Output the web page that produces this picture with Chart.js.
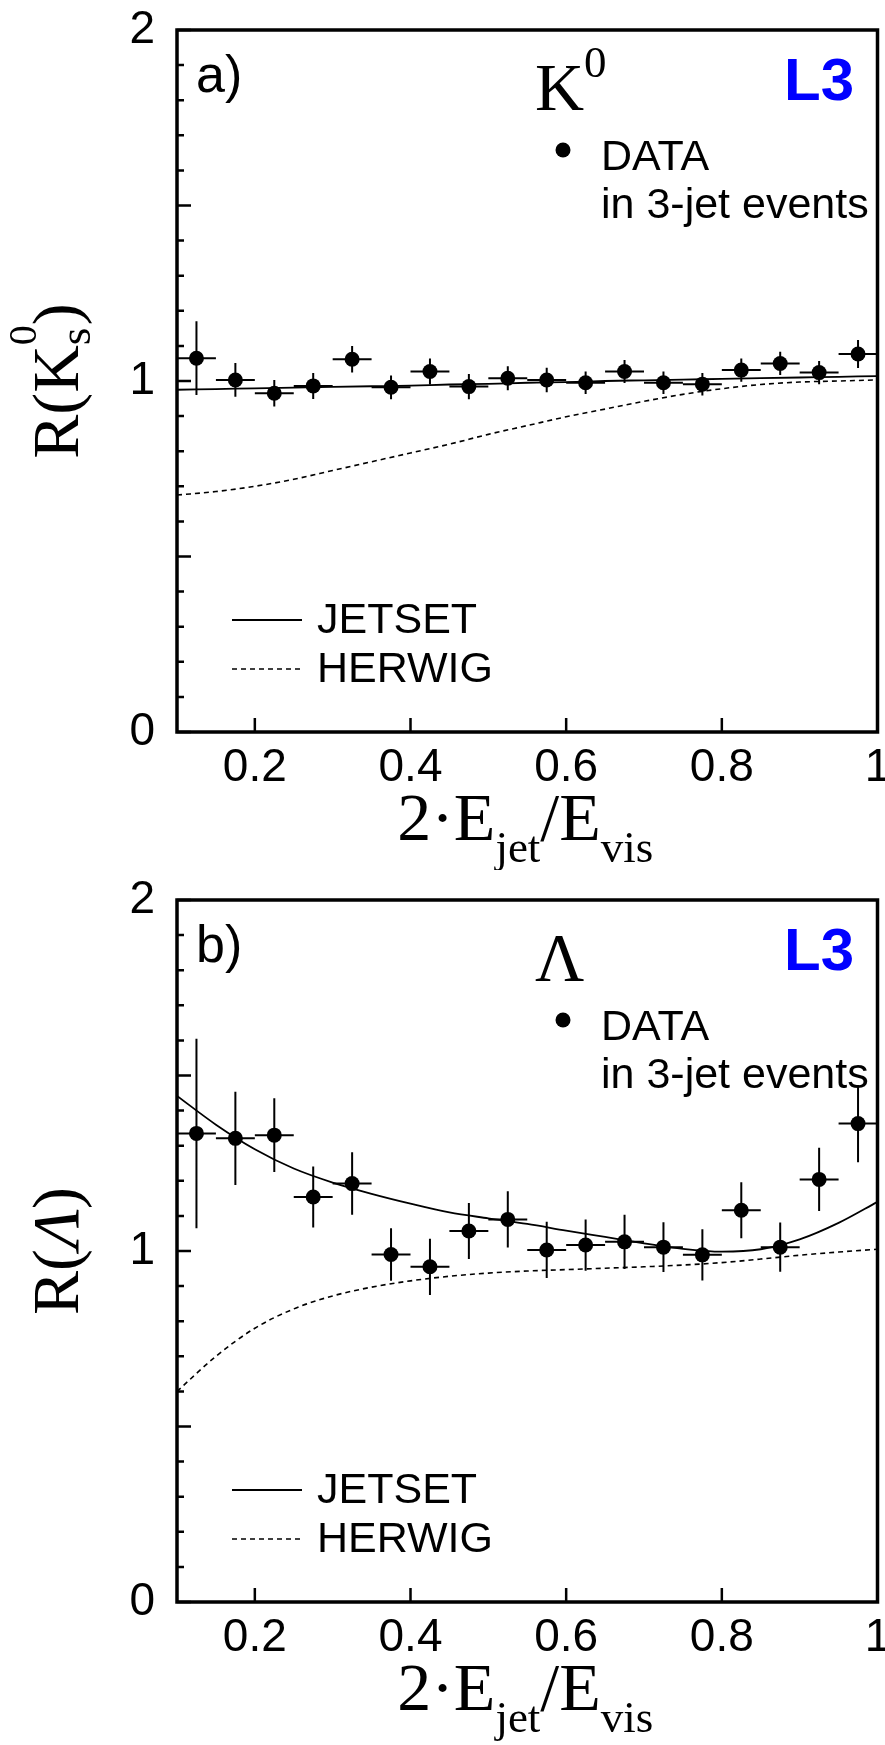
<!DOCTYPE html>
<html>
<head>
<meta charset="utf-8">
<script src="https://cdn.jsdelivr.net/npm/chart.js@4.4.1/dist/chart.umd.min.js"></script>
<style>
  html, body { margin: 0; padding: 0; background: #fff; }
  body { width: 885px; height: 1745px; position: relative; overflow: hidden; }
  canvas { position: absolute; left: 0; }
  #panelA { top: 0; }
  #panelB { top: 870px; }
</style>
</head>
<body>
<canvas id="panelA" width="885" height="870"></canvas>
<canvas id="panelB" width="885" height="875"></canvas>
<script>
// bin centres in 2*E_jet/E_vis, each bin is 0.05 wide
const binCenters = [0.125, 0.175, 0.225, 0.275, 0.325, 0.375, 0.425, 0.475, 0.525,
                    0.575, 0.625, 0.675, 0.725, 0.775, 0.825, 0.875, 0.925, 0.975];
const binHalfWidth = 0.025;

// a) K0 data
const k0Values = [1.065, 1.003, 0.965, 0.986, 1.062, 0.982, 1.027, 0.984, 1.008,
                  1.003, 0.995, 1.027, 0.995, 0.991, 1.031, 1.050, 1.024, 1.077];
const k0Errors = [0.105, 0.048, 0.038, 0.037, 0.038, 0.034, 0.037, 0.036, 0.034,
                  0.035, 0.032, 0.033, 0.032, 0.032, 0.033, 0.033, 0.033, 0.040];

// b) Lambda data
const lambdaValues = [1.335, 1.321, 1.330, 1.154, 1.192, 0.990, 0.955, 1.057, 1.090,
                      1.003, 1.017, 1.026, 1.011, 0.989, 1.116, 1.011, 1.204, 1.363];
const lambdaErrors = [0.270, 0.133, 0.105, 0.087, 0.089, 0.075, 0.080, 0.080, 0.080,
                      0.080, 0.073, 0.077, 0.071, 0.073, 0.080, 0.070, 0.090, 0.110];

const curveX = [0.10, 0.15, 0.20, 0.25, 0.30, 0.35, 0.40, 0.45, 0.50, 0.55,
                0.60, 0.65, 0.70, 0.75, 0.80, 0.85, 0.90, 0.95, 1.00];
const k0Jetset = [0.975, 0.977, 0.979, 0.981, 0.983, 0.985, 0.987, 0.990, 0.992, 0.995,
                  0.997, 1.000, 1.002, 1.004, 1.006, 1.008, 1.010, 1.012, 1.014];
const k0Herwig = [0.675, 0.685, 0.700, 0.720, 0.745, 0.770, 0.795, 0.820, 0.848, 0.873,
                  0.898, 0.920, 0.942, 0.962, 0.978, 0.990, 0.997, 1.000, 1.003];
const lambdaJetset = [1.442, 1.360, 1.290, 1.235, 1.195, 1.163, 1.135, 1.110, 1.093, 1.077,
                      1.058, 1.040, 1.022, 1.006, 0.998, 1.005, 1.033, 1.080, 1.140];
const lambdaHerwig = [0.600, 0.700, 0.780, 0.835, 0.872, 0.897, 0.915, 0.928, 0.937, 0.943,
                      0.947, 0.951, 0.955, 0.960, 0.967, 0.977, 0.988, 0.997, 1.005];

// axes
const xTickValues = [0.2, 0.4, 0.6, 0.8, 1.0];
const xTickLabels = ['0.2', '0.4', '0.6', '0.8', '1'];
const yLabelValues = [0, 1, 2];
const yLabelTexts = ['0', '1', '2'];
const yMajorTicks = [0, 0.5, 1, 1.5, 2];

const sansFont = '"Liberation Sans", Arial, Helvetica, sans-serif';
const serifFont = '"Liberation Serif", "Times New Roman", serif';
const bigSerif = '68px ' + serifFont;
const smallSerif = '45px ' + serifFont;

function runWidth(ctx, run) {
  const parts = run.stack || [run];
  return Math.max(...parts.map(p => { ctx.font = p.font; return ctx.measureText(p.text).width; }));
}

// draws a row of text pieces (sub/superscripts via dy)
function drawRuns(ctx, runs, x, y, align) {
  const total = runs.reduce((s, r) => s + runWidth(ctx, r), 0);
  let cx = align === 'center' ? x - total / 2 : x;
  ctx.textAlign = 'left';
  ctx.textBaseline = 'alphabetic';
  for (const r of runs) {
    const parts = r.stack || [r];
    for (const p of parts) {
      ctx.font = p.font;
      ctx.fillText(p.text, cx, y + (p.dy || 0));
    }
    cx += runWidth(ctx, r);
  }
}

const decorPlugin = {
  id: 'decor',
  afterDatasetsDraw(chart, args, opts) {
    const { ctx, chartArea: ca, scales: { x, y } } = chart;
    ctx.save();
    ctx.strokeStyle = '#000';
    ctx.fillStyle = '#000';

    // error bars
    ctx.lineWidth = 2;
    ctx.beginPath();
    opts.values.forEach((v, i) => {
      const px = x.getPixelForValue(binCenters[i]);
      const py = y.getPixelForValue(v);
      ctx.moveTo(px, y.getPixelForValue(v + opts.errors[i]));
      ctx.lineTo(px, y.getPixelForValue(v - opts.errors[i]));
      ctx.moveTo(x.getPixelForValue(binCenters[i] - binHalfWidth), py);
      ctx.lineTo(x.getPixelForValue(binCenters[i] + binHalfWidth), py);
    });
    ctx.stroke();

    // tick marks pointing inward
    ctx.lineWidth = 2.5;
    ctx.beginPath();
    for (let v = 0; v <= 2.0001; v += 0.1) {
      const major = yMajorTicks.some(m => Math.abs(m - v) < 1e-6);
      const py = y.getPixelForValue(v);
      ctx.moveTo(ca.left, py);
      ctx.lineTo(ca.left + (major ? 14 : 7), py);
    }
    xTickValues.forEach(v => {
      const px = x.getPixelForValue(v);
      ctx.moveTo(px, ca.bottom);
      ctx.lineTo(px, ca.bottom - 14);
    });
    ctx.stroke();

    // frame
    ctx.lineWidth = 3.5;
    ctx.strokeRect(ca.left, ca.top, ca.right - ca.left, ca.bottom - ca.top);
    ctx.restore();
  },
  afterDraw(chart, args, opts) {
    const { ctx, chartArea: ca } = chart;
    const top = ca.top;
    ctx.save();
    ctx.fillStyle = '#000';
    ctx.strokeStyle = '#000';

    // panel tag
    ctx.font = '52px ' + sansFont;
    ctx.textAlign = 'left';
    ctx.fillText(opts.tag, 196, top + 62);

    // particle name
    drawRuns(ctx, opts.species, 535, top + 80);

    // experiment
    ctx.fillStyle = '#0000ff';
    ctx.font = 'bold 60px ' + sansFont;
    ctx.fillText('L3', 784, top + 70);
    ctx.fillStyle = '#000';

    // legend, upper
    ctx.beginPath();
    ctx.arc(563, top + 120, 7.5, 0, Math.PI * 2);
    ctx.fill();
    ctx.font = '43px ' + sansFont;
    ctx.fillText('DATA', 601, top + 140);
    ctx.fillText('in 3-jet events', 601, top + 188);

    // legend, lower
    ctx.lineWidth = 1.8;
    ctx.beginPath();
    ctx.moveTo(232, top + 590);
    ctx.lineTo(302, top + 590);
    ctx.stroke();
    ctx.lineWidth = 1.6;
    ctx.setLineDash([5, 4]);
    ctx.beginPath();
    ctx.moveTo(232, top + 639);
    ctx.lineTo(302, top + 639);
    ctx.stroke();
    ctx.setLineDash([]);
    ctx.fillText('JETSET', 317, top + 603);
    ctx.fillText('HERWIG', 317, top + 652);

    // x title
    drawRuns(ctx, [
      { text: '2·E', font: bigSerif },
      { text: 'jet', font: smallSerif, dy: 22 },
      { text: '/E', font: bigSerif },
      { text: 'vis', font: smallSerif, dy: 22 }
    ], (ca.left + ca.right) / 2 - 2, ca.bottom + 108, 'center');

    // y title, rotated
    ctx.translate(78, (ca.top + ca.bottom) / 2);
    ctx.rotate(-Math.PI / 2);
    drawRuns(ctx, opts.yTitle, 0, 0, 'center');
    ctx.restore();
  }
};

function makePanel(canvasId, values, errors, jetset, herwig, extra) {
  const canvas = document.getElementById(canvasId);
  return new Chart(canvas.getContext('2d'), {
    type: 'scatter',
    data: {
      datasets: [{
        label: 'DATA',
        data: binCenters.map((c, i) => ({ x: c, y: values[i] })),
        pointRadius: 7.5,
        pointBackgroundColor: '#000',
        pointBorderWidth: 0,
        showLine: false
      }, {
        type: 'line',
        label: 'JETSET',
        data: curveX.map((c, i) => ({ x: c, y: jetset[i] })),
        borderColor: '#000',
        borderWidth: 1.8,
        pointRadius: 0,
        cubicInterpolationMode: 'monotone',
        fill: false
      }, {
        type: 'line',
        label: 'HERWIG',
        data: curveX.map((c, i) => ({ x: c, y: herwig[i] })),
        borderColor: '#000',
        borderWidth: 1.6,
        borderDash: [5, 4],
        pointRadius: 0,
        cubicInterpolationMode: 'monotone',
        fill: false
      }]
    },
    options: {
      responsive: false,
      animation: false,
      layout: { padding: { left: 0, top: 30, right: 3, bottom: 0 } },
      plugins: {
        legend: { display: false },
        tooltip: { enabled: false },
        decor: Object.assign({ values, errors }, extra)
      },
      scales: {
        x: {
          type: 'linear',
          min: 0.1,
          max: 1.0,
          grid: { display: false, drawTicks: false },
          border: { display: false },
          afterBuildTicks: scale => { scale.ticks = xTickValues.map(v => ({ value: v })); },
          afterFit: scale => {
            scale.height = canvas.height - 30 - 702;
            scale.paddingLeft = 0;
            scale.paddingRight = 0;
          },
          ticks: {
            autoSkip: false,
            maxRotation: 0,
            padding: 9,
            color: '#000',
            font: { family: sansFont, size: 46 },
            callback: (v, i) => xTickLabels[i]
          }
        },
        y: {
          type: 'linear',
          min: 0,
          max: 2,
          grid: { display: false, drawTicks: false },
          border: { display: false },
          afterBuildTicks: scale => { scale.ticks = yLabelValues.map(v => ({ value: v })); },
          afterFit: scale => {
            scale.width = 177;
            scale.paddingTop = 0;
            scale.paddingBottom = 0;
          },
          ticks: {
            autoSkip: false,
            padding: 22,
            color: '#000',
            font: { family: sansFont, size: 46 },
            callback: (v, i) => yLabelTexts[i]
          }
        }
      }
    },
    plugins: [decorPlugin]
  });
}

makePanel('panelA', k0Values, k0Errors, k0Jetset, k0Herwig, {
  tag: 'a)',
  species: [{ text: 'K', font: bigSerif }, { text: '0', font: smallSerif, dy: -33 }],
  yTitle: [
    { text: 'R(K', font: '66px ' + serifFont },
    { stack: [{ text: '0', font: '40px ' + serifFont, dy: -42 }, { text: 's', font: smallSerif, dy: 12 }] },
    { text: ')', font: '66px ' + serifFont }
  ]
});

makePanel('panelB', lambdaValues, lambdaErrors, lambdaJetset, lambdaHerwig, {
  tag: 'b)',
  species: [{ text: 'Λ', font: bigSerif }],
  yTitle: [
    { text: 'R(', font: '66px ' + serifFont },
    { text: 'Λ', font: 'italic 66px ' + serifFont },
    { text: ')', font: '66px ' + serifFont }
  ]
});
</script>
</body>
</html>
